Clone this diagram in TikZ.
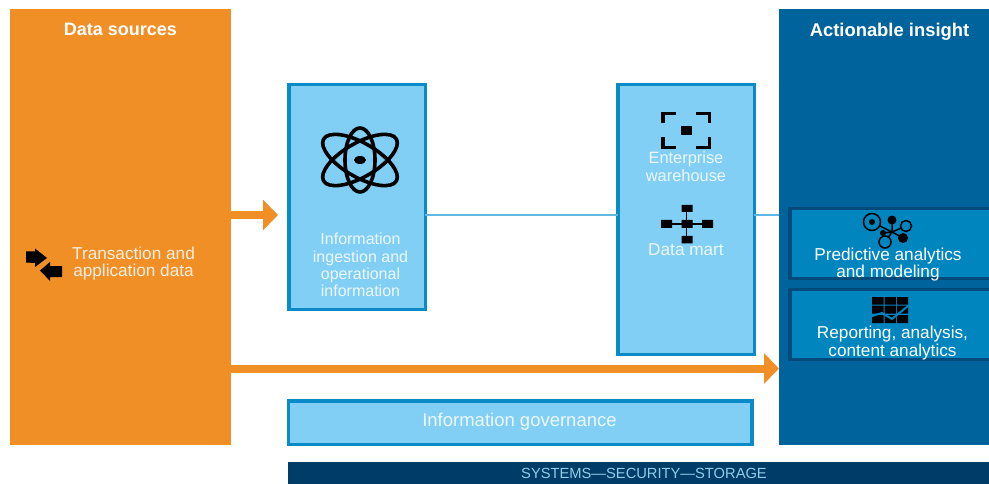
\documentclass[tikz,border=0pt]{standalone}
\usepackage{fontspec}
\setmainfont{Liberation Sans}
\usetikzlibrary{arrows.meta}
\definecolor{srcorange}{HTML}{F18F27}
\definecolor{insightblue}{HTML}{00639C}
\definecolor{paleblue}{HTML}{82CFF6}
\definecolor{edgeblue}{HTML}{0A8AC6}
\definecolor{midblue}{HTML}{0085BF}
\definecolor{darkblue}{HTML}{004A7C}
\definecolor{barblue}{HTML}{003C68}
\definecolor{linkblue}{HTML}{5FB7E2}
\begin{document}
\begin{tikzpicture}[x=1pt,y=-1pt]
		\tikzset{panel/.style = {shape=rectangle,inner sep=0,outer sep=0,minimum width=#1}}
		\tikzset{stage/.style = {shape=rectangle,draw=edgeblue,fill=paleblue,line width=3.5pt,inner sep=0,outer sep=0}}
		\tikzset{tool/.style = {shape=rectangle,draw=darkblue,fill=midblue,line width=3.5pt,inner sep=0,outer sep=0,minimum width=201pt,minimum height=70pt}}
		\tikzset{title/.style = {text=white,font=\fontsize{18}{22}\selectfont\bfseries}}
		\tikzset{caption/.style = {text=white,align=center,font=\fontsize{17.2}{17.3}\selectfont}}
		\tikzset{flow/.style = {-{Triangle[length=15pt,width=30pt]},draw=srcorange,line width=8pt}}
		\tikzset{link/.style = {draw=linkblue,line width=1.5pt}}
		\useasboundingbox (0,0) rectangle (989,484);
		\node[panel=221pt,fill=srcorange,minimum height=436pt] (sources) at (120.5,227) {};
		\node[panel=210pt,fill=insightblue,minimum height=436pt] (insight) at (884,227) {};
		\node[stage,minimum width=136.5pt,minimum height=224.5pt] (ingest) at (357,197) {};
		\node[stage,minimum width=136.5pt,minimum height=269.5pt] (warehouse) at (686,219.5) {};
		\node[stage,minimum width=463.5pt,minimum height=43.5pt] (governance) at (520,422.5) {};
		\node[panel=701pt,fill=barblue,minimum height=22pt] (systems) at (638.5,473) {};
		\node[tool] (predictive) at (890.5,243.5) {};
		\node[tool] (reporting) at (890.5,324.5) {};
		\coordinate (midline) at (0,215);
		\coordinate (ingesttip) at (278,215);
		\coordinate (insighttip) at (779,368.5);
		\path[flow] (sources.east |- ingesttip) -- (ingesttip);
		\path[flow] (sources.east |- insighttip) -- (insighttip);
		\path[link] (ingest.east |- midline) -- (warehouse.west |- midline);
		\path[link] (warehouse.east |- midline) -- (insight.west |- midline);
		\node[title] (sourcestitle) at (120.5,29.5) {Data sources};
		\node[title,font=\fontsize{18.4}{22}\selectfont\bfseries] (insighttitle) at (889.5,31.5) {Actionable insight};
		\node[caption,text=white!85!srcorange] (sourcestext) at (133.5,263.5) {Transaction and\\application data};
		\node[caption,text=white!85!paleblue,font=\fontsize{16}{17.3}\selectfont] (ingesttext) at (360.5,265) {Information\\ingestion and\\operational\\information};
		\node[caption,text=white!85!paleblue,font=\fontsize{16.4}{17.3}\selectfont] (warehousetext) at (686,166.5) {Enterprise\\warehouse};
		\node[caption,text=white!85!paleblue] (marttext) at (686,250) {Data mart};
		\node[caption,text=white!85!paleblue,font=\fontsize{18.5}{20}\selectfont] (governancetext) at (519.5,422) {Information governance};
		\node[caption,text=linkblue!70!white,font=\fontsize{14.7}{17}\selectfont] (systemstext) at (644,473.5) {SYSTEMS—SECURITY—STORAGE};
		\node[caption] (predictivetext) at (888,264.5) {Predictive analytics\\and modeling};
		\node[caption] (reportingtext) at (892.5,343) {Reporting, analysis,\\content analytics};
		% icons
		\fill (26,251.5) -- (35,251.5) -- (35,248.5) -- (47,258) -- (35,267) -- (35,263) -- (26,262.5) -- cycle;
		\fill (62,266) -- (50,266) -- (50,262) -- (40,270.5) -- (50,281) -- (50,277) -- (62,277) -- cycle;
		\draw[line width=3.6pt] (360,160) ellipse (15 and 32);
		\foreach \turn in {60,120}
			\draw[line width=3.6pt,rotate around={\turn:(360,160)}] (360,160) ellipse (17 and 42);
		\fill (360,160) ellipse (6 and 4);
		\draw[line width=3.5pt] (676,113.5) -- (663,113.5) -- (663,123)
			(696,113.5) -- (709.5,113.5) -- (709.5,123)
			(663,137) -- (663,147.5) -- (676,147.5)
			(709.5,137) -- (709.5,147.5) -- (696,147.5);
		\fill (680.5,126) rectangle (692,135);
		\draw[line width=1.5pt] (666,224) -- (708,224) (686.5,208) -- (686.5,240);
		\fill (681.5,205) rectangle (692.5,212) (661,220) rectangle (672,228) (702,220) rectangle (713,228)
			(681.5,236) rectangle (692.5,243.5) (681.5,220) rectangle (692.5,228);
		\draw[line width=1.5pt] (872,222) -- (892,232) -- (892,220) (892,232) -- (906,226)
			(892,232) -- (903,238) (892,232) -- (885,242) (892,232) -- (883,233);
		\fill[midblue] (885,242) circle (6) (906,226) circle (5.5) (872,222) circle (8.5);
		\draw[line width=1.5pt] (872,222) circle (8.5) (906,226) circle (5.5) (885,242) circle (6);
		\fill (872,222) circle (3) (892,220) circle (4.5) (903,238) circle (5) (883,233) circle (3);
		\fill (872,297) rectangle (883.5,304.5) (884.5,297) rectangle (896,304.5) (897,297) rectangle (908,304.5)
			(872,305.5) rectangle (883.5,313.5) (884.5,305.5) rectangle (896,313.5) (897,305.5) rectangle (908,313.5)
			(872,315) rectangle (883.5,323) (884.5,315) rectangle (896,323) (897,315) rectangle (908,323);
		\draw[midblue,line width=2pt] (872,316) -- (882,313) -- (892,319) -- (908,306);
	\end{tikzpicture}
\end{document}
